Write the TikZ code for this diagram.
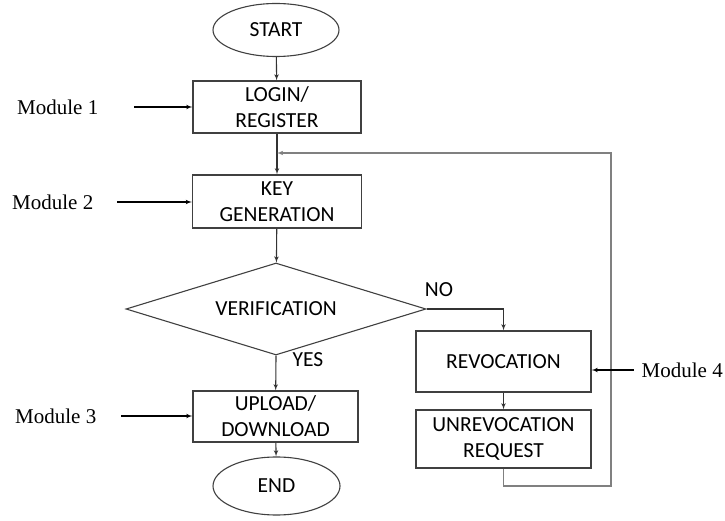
\documentclass[tikz,border=0pt]{standalone}
\usepackage{fontspec}
\setmainfont{Carlito}
\newfontfamily\modfont{Liberation Serif}
\usepackage{tikz}
\usetikzlibrary{arrows,shapes.geometric}

\begin{document}
\begin{tikzpicture}[x=1pt,y=-1pt]
                \tikzset{step box/.style = {shape=rectangle,draw=black!75,line width=1.1pt,align=center,inner sep=0pt,font=\fontsize{21.5}{26}\selectfont}}
                \tikzset{terminal/.style = {shape=ellipse,draw=black!75,line width=1.1pt,inner sep=0pt,font=\fontsize{21.5}{26}\selectfont}}
                \tikzset{module/.style = {inner sep=0pt,font=\modfont\fontsize{21}{25}\selectfont}}
                \tikzset{edge/.style = {->,> = latex',draw=black!80,line width=1.1pt}}
                \tikzset{loop line/.style = {->,> = latex',draw=black!50,line width=1.1pt}}
                \useasboundingbox (0,0) rectangle (725,521);
                % vertices
                \node[terminal, minimum width=126, minimum height=53] (start) at (276,30) {START};
                \node[step box, minimum width=168, minimum height=52] (login) at (277,107) {LOGIN/\\REGISTER};
                \node[step box, minimum width=169, minimum height=53] (keygen) at (277,201.5) {KEY\\GENERATION};
                \node[shape=diamond, aspect=3.2, draw=black!75, line width=1.1pt, inner sep=0pt,
                      minimum width=300, minimum height=92, font=\fontsize{21.5}{26}\selectfont] (verify) at (276,309) {VERIFICATION};
                \node[step box, minimum width=165, minimum height=51] (updown) at (275.5,416.5) {UPLOAD/\\DOWNLOAD};
                \node[terminal, minimum width=127, minimum height=58] (finish) at (276.5,486) {END};
                \node[step box, minimum width=175, minimum height=61] (revoke) at (503.5,361.5) {REVOCATION};
                \node[step box, minimum width=175, minimum height=58] (unrevoke) at (503.5,439) {UNREVOCATION\\REQUEST};

                % labels
                \node[module, anchor=west] (m1) at (17,107) {Module 1};
                \node[module, anchor=west] (m2) at (12,202) {Module 2};
                \node[module, anchor=west] (m3) at (15,416) {Module 3};
                \node[module, anchor=east] (m4) at (723,370) {Module 4};
                \node[font=\fontsize{21.5}{26}\selectfont] (no) at (439,290) {NO};
                \node[font=\fontsize{21.5}{26}\selectfont] (yes) at (308,360) {YES};
                \coordinate (lp) at (611,486);
                \coordinate (ltop) at (611,153);

                %edges
                \draw[edge] (start) to (login);
                \draw[edge] (login) to (keygen);
                \draw[edge] (keygen) to (verify);
                \draw[edge] (verify.south) to (updown);
                \draw[edge] (updown) to (finish);
                \draw[edge] (verify.east) -| (revoke.north);
                \draw[edge] (revoke) to (unrevoke);
                \draw[loop line] (unrevoke.south) |- (lp) -- (ltop) -- (ltop -| keygen.north);
                \draw[->,> = latex',line width=1.1pt,shorten <=36pt] (m1.east) -- (m1.east -| login.west);
                \draw[->,> = latex',line width=1.1pt,shorten <=24pt] (m2.east) -- (m2.east -| keygen.west);
                \draw[->,> = latex',line width=1.1pt,shorten <=25pt] (m3.east) -- (m3.east -| updown.west);
                \draw[->,> = latex',line width=1.1pt,shorten <=8pt] (m4.west) -- (m4.west -| revoke.east);
            \end{tikzpicture}
\end{document}
